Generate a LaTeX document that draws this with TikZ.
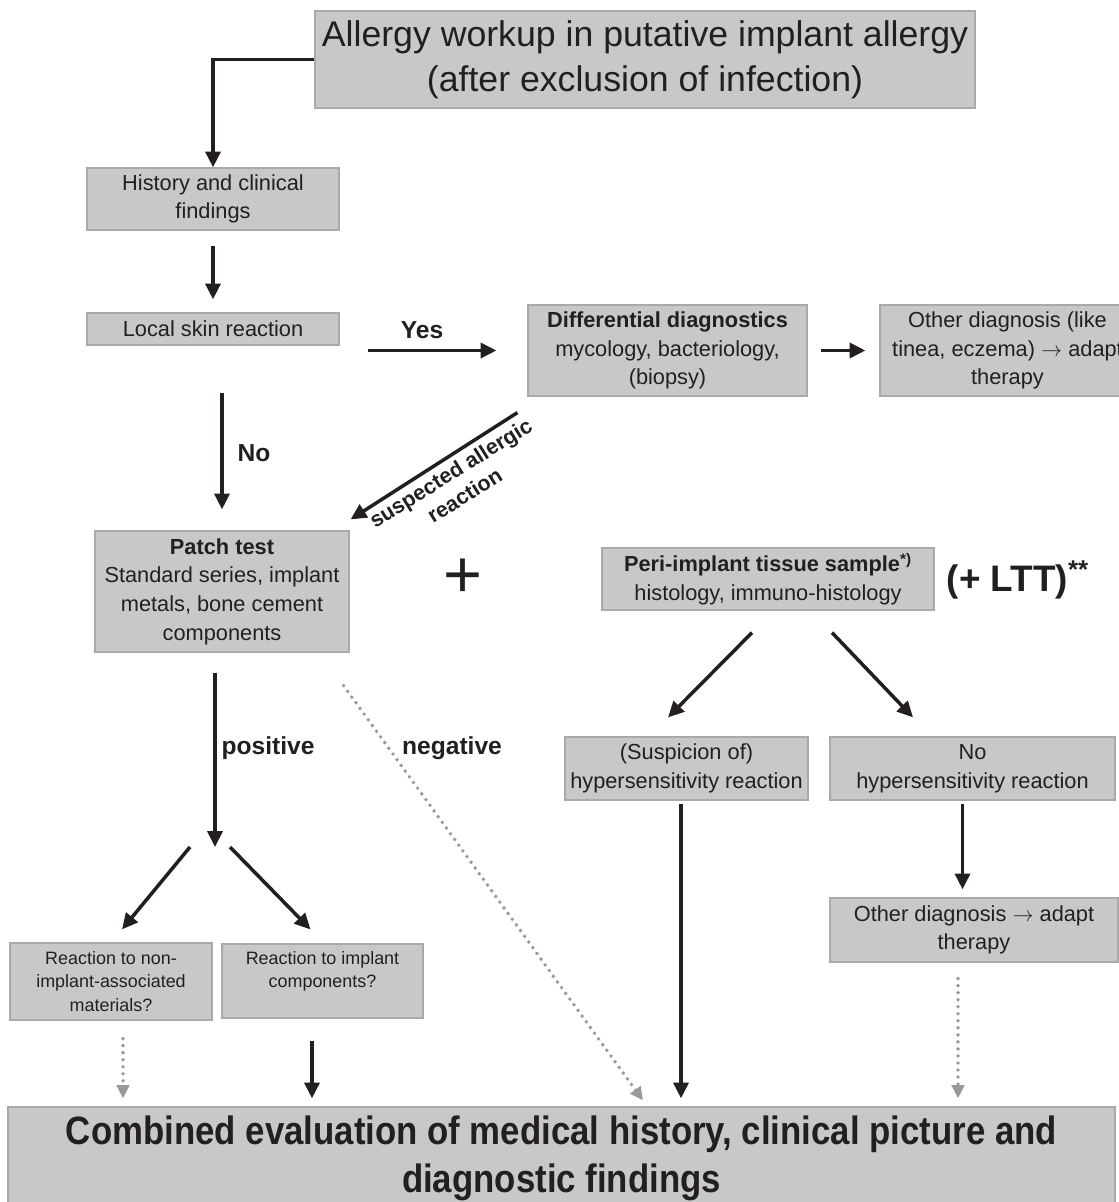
\documentclass[tikz,border=0pt]{standalone}
\usepackage{fontspec}
\setmainfont{Liberation Sans}
\newfontfamily\narrowfont[FakeStretch=0.88]{Liberation Sans}
\usetikzlibrary{arrows.meta}
\definecolor{boxfill}{HTML}{C7C8CA}
\definecolor{boxedge}{HTML}{A8A9AB}
\definecolor{dotgray}{HTML}{999999}
\definecolor{inkgray}{HTML}{231F20}

\begin{document}
\begin{tikzpicture}[x=0.02cm, y=-0.02cm,
  box/.style={draw=boxedge, fill=boxfill, line width=0.7pt, align=center, inner sep=0pt,
    text=inkgray, font=\fontsize{12.4}{16.3}\selectfont},
  smallbox/.style={box, font=\fontsize{10.2}{13.3}\selectfont},
  lbl/.style={inner sep=0pt, text=inkgray, font=\bfseries\fontsize{14}{16}\selectfont},
  arr/.style={-{Triangle[length=9pt,width=8.5pt]}, line width=2pt, inkgray},
  dotarr/.style={-{Triangle[length=7.5pt,width=7pt]}, line width=2.2pt, dotgray,
    line cap=round, dash pattern=on 0pt off 4pt}
]
    \useasboundingbox (0,0) rectangle (1118,1202);

    %boxes
    \node[box, minimum width=13.2cm, minimum height=1.94cm, font=\fontsize{20.3}{25.5}\selectfont] (workup) at (645,59.5)
        {Allergy workup in putative implant allergy\\(after exclusion of infection)};
    \node[box, minimum width=5.04cm, minimum height=1.24cm] (history) at (213,199) {History and clinical\\findings};
    \node[box, minimum width=5.04cm, minimum height=0.64cm] (skin) at (213,329) {Local skin reaction};
    \node[box, minimum width=5.58cm, minimum height=1.82cm] (diffdiag) at (667.5,350.5)
        {\textbf{Differential diagnostics}\\mycology, bacteriology,\\(biopsy)};
    \node[box, minimum width=5.1cm, minimum height=1.82cm] (otherdiag) at (1007.5,350.5)
        {Other diagnosis (like\\tinea, eczema) $\rightarrow$ adapt\\therapy};
    \node[box, minimum width=5.08cm, minimum height=2.42cm] (patch) at (222,591.5)
        {\textbf{Patch test}\\Standard series, implant\\metals, bone cement\\components};
    \node[box, minimum width=6.64cm, minimum height=1.24cm] (tissue) at (768,579)
        {\textbf{Peri-implant tissue sample\textsuperscript{*)}}\\histology, immuno-histology};
    \node[box, minimum width=4.86cm, minimum height=1.26cm] (suspicion) at (686.5,768.5)
        {(Suspicion of)\\hypersensitivity reaction};
    \node[box, minimum width=5.7cm, minimum height=1.26cm] (nohyper) at (972.5,768.5)
        {No\\hypersensitivity reaction};
    \node[box, minimum width=5.76cm, minimum height=1.28cm] (otheradapt) at (974,930)
        {Other diagnosis $\rightarrow$ adapt\\therapy};
    \node[smallbox, minimum width=4.04cm, minimum height=1.54cm] (nonimplant) at (111,981.5)
        {Reaction to non-\\implant-associated\\materials?};
    \node[smallbox, minimum width=4.02cm, minimum height=1.48cm] (implant) at (322.5,981)
        {Reaction to implant\\components?\\\mbox{}};
    \node[box, minimum width=22.14cm, minimum height=2.06cm, font=\narrowfont\bfseries\fontsize{22.5}{27.5}\selectfont] (combined) at (561.5,1158.5)
        {Combined evaluation of medical history, clinical picture and\\diagnostic findings};

    %labels
    \node[lbl] (yeslbl) at (422,330) {Yes};
    \node[lbl] (nolbl) at (254,453) {No};
    \node[lbl] (poslbl) at (268,748) {positive};
    \node[lbl] (neglbl) at (452,748) {negative};
    \node[lbl, font=\bfseries\fontsize{12.2}{15}\selectfont, rotate=32, align=center] (susplbl) at (457.5,484)
        {suspected allergic\\reaction};
    \node[inner sep=0pt, text=inkgray, font=\fontsize{38}{40}\selectfont] (plus) at (463,578) {+};
    \node[lbl, font=\bfseries\fontsize{21}{24}\selectfont] (ltt) at (1018,580) {(+ LTT)\textsuperscript{**}};

    %arrows
    \coordinate (fork) at (215,847);
    \draw[arr] (workup.west) -| (history.north);
    \draw[arr, shorten <=0.3cm, shorten >=0.26cm] (history.south) -- (skin.north);
    \draw[arr, shorten <=0.56cm, shorten >=0.62cm] (skin.east |- diffdiag.west) -- (diffdiag.west);
    \draw[arr, shorten <=0.26cm, shorten >=0.28cm] (diffdiag.east) -- (otherdiag.west);
    \draw[arr, shorten <=0.94cm, shorten >=0.42cm] (skin.south -| patch.north) -- (patch.north);
    \draw[arr] ([shift={(-10,16)}]diffdiag.south west) -- ([shift={(1,-11)}]patch.north east);
    \draw[arr, shorten <=0.4cm] (patch.south -| fork) -- (fork);
    \draw[arr] ([shift={(-25,0)}]fork) -- ([shift={(11,-13)}]nonimplant.north);
    \draw[arr] ([shift={(15,0)}]fork) -- ([shift={(-12,-14)}]implant.north);
    \draw[dotarr] ([shift={(-6,33)}]patch.south east) -- ([shift={(81.5,-6)}]combined.north);
    \draw[arr] ([shift={(-16,22)}]tissue.south) -- ([shift={(-18.5,-19)}]suspicion.north);
    \draw[arr] ([shift={(64,22)}]tissue.south) -- ([shift={(-59.5,-19)}]nohyper.north);
    \draw[arr, shorten <=0.06cm, shorten >=0.16cm] ([shift={(-5.5,0)}]suspicion.south) -- ([shift={(-5.5,0)}]suspicion.south |- combined.north);
    \draw[arr, shorten <=0.06cm, shorten >=0.16cm] ([shift={(-10,0)}]nohyper.south) -- ([shift={(-10,0)}]nohyper.south |- otheradapt.north);
    \draw[dotarr, shorten <=0.32cm, shorten >=0.16cm] ([shift={(-16,0)}]otheradapt.south) -- ([shift={(-16,0)}]otheradapt.south |- combined.north);
    \draw[dotarr, shorten <=0.36cm, shorten >=0.16cm] ([shift={(12,0)}]nonimplant.south) -- ([shift={(12,0)}]nonimplant.south |- combined.north);
    \draw[arr, shorten <=0.44cm, shorten >=0.16cm] ([shift={(-10.5,0)}]implant.south) -- ([shift={(-10.5,0)}]implant.south |- combined.north);

\end{tikzpicture}
\end{document}
